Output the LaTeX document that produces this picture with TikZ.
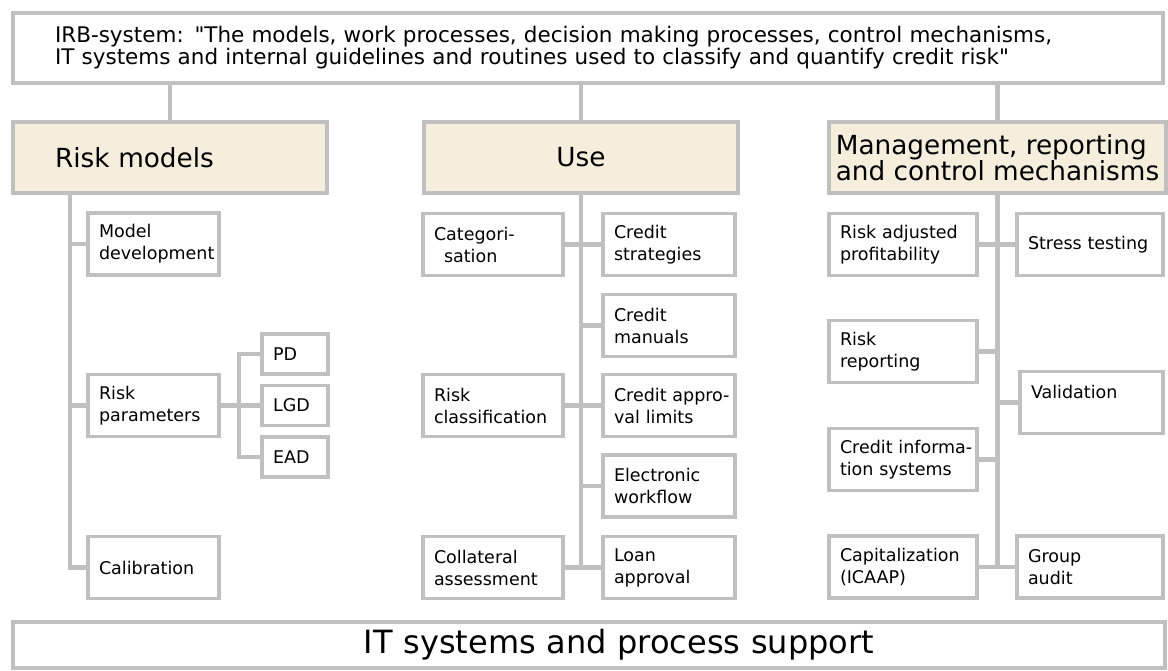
\documentclass[tikz,border=0pt]{standalone}
\usepackage{fontspec}
\setmainfont{DejaVu Sans}
\usepackage{tikz}
\usetikzlibrary{calc}
\definecolor{linegray}{RGB}{192,192,192}
\definecolor{headfill}{RGB}{246,238,221}
\hyphenpenalty=10000
\exhyphenpenalty=10000

\begin{document}
\begin{tikzpicture}[
  link/.style={draw=linegray, line width=4.5pt},
  boxline/.style={draw=linegray, line width=3.5pt, inner ysep=0pt},
  topbox/.style={boxline, fill=white, align=left, text width=1066pt, inner xsep=42pt, minimum height=70pt, font=\fontsize{21.5pt}{22pt}\selectfont},
  headbox/.style={boxline, fill=headfill, minimum height=71pt, font=\fontsize{26.3pt}{25pt}\selectfont},
  itembox/.style={boxline, fill=white, align=left, text width=#1, inner xsep=11pt, minimum height=62pt, font=\fontsize{17.5pt}{22pt}\selectfont},
  parmbox/.style={itembox=44pt, minimum height=40pt},
  basebox/.style={boxline, fill=white, align=right, text width=570pt, inner xsep=291pt, minimum height=46pt, font=\fontsize{32pt}{36pt}\selectfont},
]
\useasboundingbox (0pt,0pt) rectangle (1168pt,-671pt);

\node[topbox] (irb) at (588pt,-48pt) {IRB-system: \textquotedbl The models, work processes, decision making processes, control mechanisms,\\IT systems and internal guidelines and routines used to classify and quantify credit risk\textquotedbl};

\node[headbox, align=left, text width=230pt, inner xsep=42pt] (hrisk) at (170pt,-157.5pt) {Risk models};
\node[headbox, align=center, text width=314pt, inner xsep=0pt] (huse) at (581pt,-157.5pt) {Use};
\node[headbox, align=left, minimum width=337pt, inner xsep=6.5pt] (hmgmt) at (997.5pt,-157.5pt) {Management, reporting\\and control mechanisms};

% risk models
\node[itembox=109pt] (mdev) at (153.5pt,-244pt) {Model\\development};
\node[itembox=109pt] (rpar) at (153.5pt,-405.5pt) {Risk\\parameters};
\node[itembox=109pt] (calib) at (153.5pt,-567.5pt) {Calibration};
\node[parmbox] (pd) at (295pt,-354pt) {PD};
\node[parmbox] (lgd) at (295pt,-405.5pt) {LGD};
\node[parmbox] (ead) at (295pt,-457pt) {EAD};

% use
\node[itembox=118pt] (cat) at (493pt,-244.5pt) {Categori-\\\hspace*{10pt}sation};
\node[itembox=110pt] (cstrat) at (669pt,-244.5pt) {Credit\\strategies};
\node[itembox=110pt] (cman) at (669pt,-325.5pt) {Credit\\manuals};
\node[itembox=118pt] (rclass) at (493pt,-405.5pt) {Risk\\classification};
\node[itembox=110pt] (capl) at (669pt,-405.5pt) {Credit~appro-\\val limits};
\node[itembox=110pt] (ework) at (669pt,-486pt) {Electronic\\workflow};
\node[itembox=118pt] (coll) at (493pt,-567.5pt) {Collateral\\assessment};
\node[itembox=110pt] (loan) at (669pt,-567.5pt) {Loan\\approval};

% management
\node[itembox=126pt] (radj) at (903pt,-244.5pt) {Risk~adjusted\\profitability};
\node[itembox=124pt] (stress) at (1090pt,-244.5pt) {Stress~testing};
\node[itembox=126pt] (rrep) at (903pt,-351.5pt) {Risk\\reporting};
\node[itembox=121pt] (valid) at (1091.5pt,-402.5pt) {Validation\\\mbox{}};
\node[itembox=126pt] (cinfo) at (903pt,-459.5pt) {Credit~informa-\\tion systems};
\node[itembox=126pt] (capit) at (903pt,-567pt) {Capitalization\\(ICAAP)};
\node[itembox=124pt] (gaudit) at (1090pt,-567pt) {Group\\audit};

\node[basebox] (itsys) at (589pt,-645pt) {IT systems and process support};

% top level
\draw[link] (irb.south -| hrisk.north) -- (hrisk.north);
\draw[link] (irb.south -| huse.north) -- (huse.north);
\draw[link] (irb.south -| hmgmt.north) -- (hmgmt.north);

% risk models
\coordinate (rtrunk) at (70pt,-193pt);
\draw[link] (rtrunk) |- (calib.west);
\draw[link] (rtrunk |- mdev.west) -- (mdev.west);
\draw[link] (rtrunk |- rpar.west) -- (rpar.west);
\coordinate (pfork) at (239pt,-354pt);
\draw[link] (rpar.east) -- (lgd.west);
\draw[link] (pd.west) -- (pd.west -| pfork) -- (ead.west -| pfork) -- (ead.west);

% use
\draw[link] (huse.south) -- (huse.south |- loan.west);
\draw[link] (cat.east) -- (cstrat.west);
\draw[link] (huse.south |- cman.west) -- (cman.west);
\draw[link] (rclass.east) -- (capl.west);
\draw[link] (huse.south |- ework.west) -- (ework.west);
\draw[link] (coll.east) -- (loan.west);

% management
\draw[link] (hmgmt.south) -- (hmgmt.south |- capit.east);
\draw[link] (radj.east) -- (stress.west);
\draw[link] (hmgmt.south |- rrep.east) -- (rrep.east);
\draw[link] (hmgmt.south |- valid.west) -- (valid.west);
\draw[link] (hmgmt.south |- cinfo.east) -- (cinfo.east);
\draw[link] (capit.east) -- (gaudit.west);
\end{tikzpicture}
\end{document}
